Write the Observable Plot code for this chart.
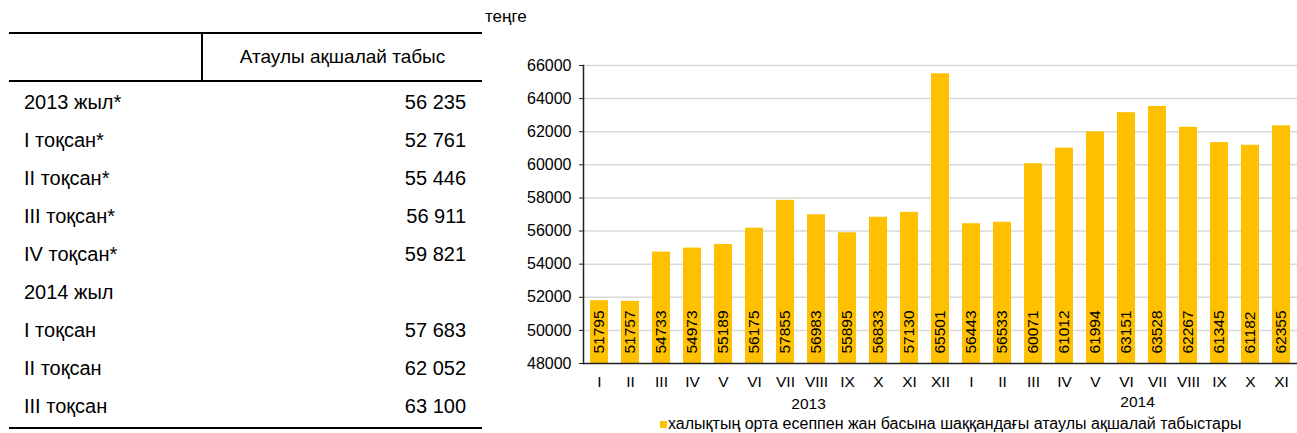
<!DOCTYPE html>
<html>
<head>
<meta charset="utf-8">
<script src="https://cdn.jsdelivr.net/npm/d3@7"></script>
<script src="https://cdn.jsdelivr.net/npm/@observablehq/plot@0.6"></script>
<style>
  html, body { margin: 0; padding: 0; background: #fff; }
  body { width: 1297px; height: 433px; position: relative; overflow: hidden;
         font-family: "Liberation Sans", Arial, sans-serif; color: #000; }
  .abs { position: absolute; white-space: pre; }
  .hline { position: absolute; left: 9px; width: 473px; background: #000; }
  .row { position: absolute; left: 0; width: 482px; height: 38px; line-height: 38px; font-size: 20px; }
  .row .lab { position: absolute; left: 24px; }
  .row .val { position: absolute; right: 16px; }
  #chart { position: absolute; left: 480px; top: 50px; }
  #legend { position: absolute; left: 660px; top: 414px; font-size: 16px; line-height: 20px; white-space: nowrap; }
  #legend .sw { display: inline-block; width: 7px; height: 7px; background: #FFC000; margin-right: 1px; vertical-align: 1px; }
</style>
</head>
<body>
<div class="abs" style="left:485px; top:6px; font-size:17px; line-height:22px;" id="unit"></div>
<div class="hline" style="top:32px; height:2px;"></div>
<div class="abs" style="left:201px; top:33px; width:2px; height:48px; background:#000;"></div>
<div class="hline" style="top:80px; height:2px;"></div>
<div class="abs" id="head" style="left:203px; width:279px; top:45px; text-align:center; font-size:19px; line-height:24px;"></div>
<div id="rows"></div>
<div class="hline" style="top:427px; height:2px;"></div>
<div id="chart"></div>
<div id="legend"></div>
<script>
// ---- table data ----
const unitLabel = "теңге";
const tableHeader = "Атаулы ақшалай табыс";
const tableLabels = ["2013 жыл*", "I тоқсан*", "II тоқсан*", "III тоқсан*", "IV тоқсан*", "2014 жыл", "I тоқсан", "II тоқсан", "III тоқсан"];
const tableValues = ["56 235", "52 761", "55 446", "56 911", "59 821", "", "57 683", "62 052", "63 100"];

// ---- chart data ----
const months2013 = ["I", "II", "III", "IV", "V", "VI", "VII", "VIII", "IX", "X", "XI", "XII"];
const values2013 = [51795, 51757, 54733, 54973, 55189, 56175, 57855, 56983, 55895, 56833, 57130, 65501];
const months2014 = ["I", "II", "III", "IV", "V", "VI", "VII", "VIII", "IX", "X", "XI"];
const values2014 = [56443, 56533, 60071, 61012, 61994, 63151, 63528, 62267, 61345, 61182, 62355];
const yearLabels = ["2013", "2014"];
const yTicks = [48000, 50000, 52000, 54000, 56000, 58000, 60000, 62000, 64000, 66000];
const legendLabel = "халықтың орта есеппен жан басына шаққандағы атаулы ақшалай табыстары";

// ---- table ----
document.getElementById("unit").textContent = unitLabel;
document.getElementById("head").textContent = tableHeader;
const rowsEl = document.getElementById("rows");
tableLabels.forEach((lab, i) => {
  const r = document.createElement("div");
  r.className = "row";
  r.style.top = (83 + i * 38) + "px";
  const a = document.createElement("span"); a.className = "lab"; a.textContent = lab;
  const b = document.createElement("span"); b.className = "val"; b.textContent = tableValues[i];
  r.appendChild(a); r.appendChild(b);
  rowsEl.appendChild(r);
});

// ---- chart ----
const data = [
  ...months2013.map((m, i) => ({key: "2013-" + m, month: m, year: "2013", value: values2013[i]})),
  ...months2014.map((m, i) => ({key: "2014-" + m, month: m, year: "2014", value: values2014[i]}))
];
const keys = data.map(d => d.key);

const chart = Plot.plot({
  width: 817,
  height: 360,
  marginLeft: 103,
  marginRight: 0,
  marginTop: 15,
  marginBottom: 47,
  style: {fontFamily: '"Liberation Sans", Arial, sans-serif', fontSize: "15.5px", color: "#000", background: "transparent", overflow: "visible"},
  x: {domain: keys, paddingInner: 0.42, paddingOuter: 0.21, label: null},
  y: {domain: [48000, 66000], label: null},
  marks: [
    Plot.gridY(yTicks.slice(1), {stroke: "#d9d9d9", strokeOpacity: 1, strokeWidth: 1.5}),
    Plot.barY(data, {x: "key", y1: 48000, y2: "value", fill: "#FFC000"}),
    Plot.text(data, {x: "key", y: 48000, text: d => String(d.value), rotate: -90, textAnchor: "start", dy: -10, fontSize: 15.5, fill: "#000"}),
    Plot.ruleY([48000], {stroke: "#222", strokeWidth: 1.5}),
    Plot.frame({anchor: "left", stroke: "#222", strokeWidth: 1.5}),
    Plot.axisY({ticks: yTicks, tickSize: 4, tickPadding: 8, tickFormat: d3.format("d"), fontSize: 16, stroke: "#222", label: null}),
    Plot.axisX({tickSize: 0, tickPadding: 12, tickFormat: k => k.split("-")[1], fontSize: 15.5, label: null}),
    Plot.text([yearLabels[0]], {x: () => "2013-VII", y: () => 48000, text: d => d, dx: 23, dy: 41, lineAnchor: "middle", fontSize: 15.5, fill: "#000"}),
    Plot.text([yearLabels[1]], {x: () => "2014-VI", y: () => 48000, text: d => d, dx: 11, dy: 39, lineAnchor: "middle", fontSize: 15.5, fill: "#000"})
  ]
});
document.getElementById("chart").appendChild(chart);

// ---- legend ----
const lg = document.getElementById("legend");
const sw = document.createElement("span"); sw.className = "sw";
const lt = document.createElement("span"); lt.textContent = legendLabel;
lg.appendChild(sw); lg.appendChild(lt);
</script>
</body>
</html>
